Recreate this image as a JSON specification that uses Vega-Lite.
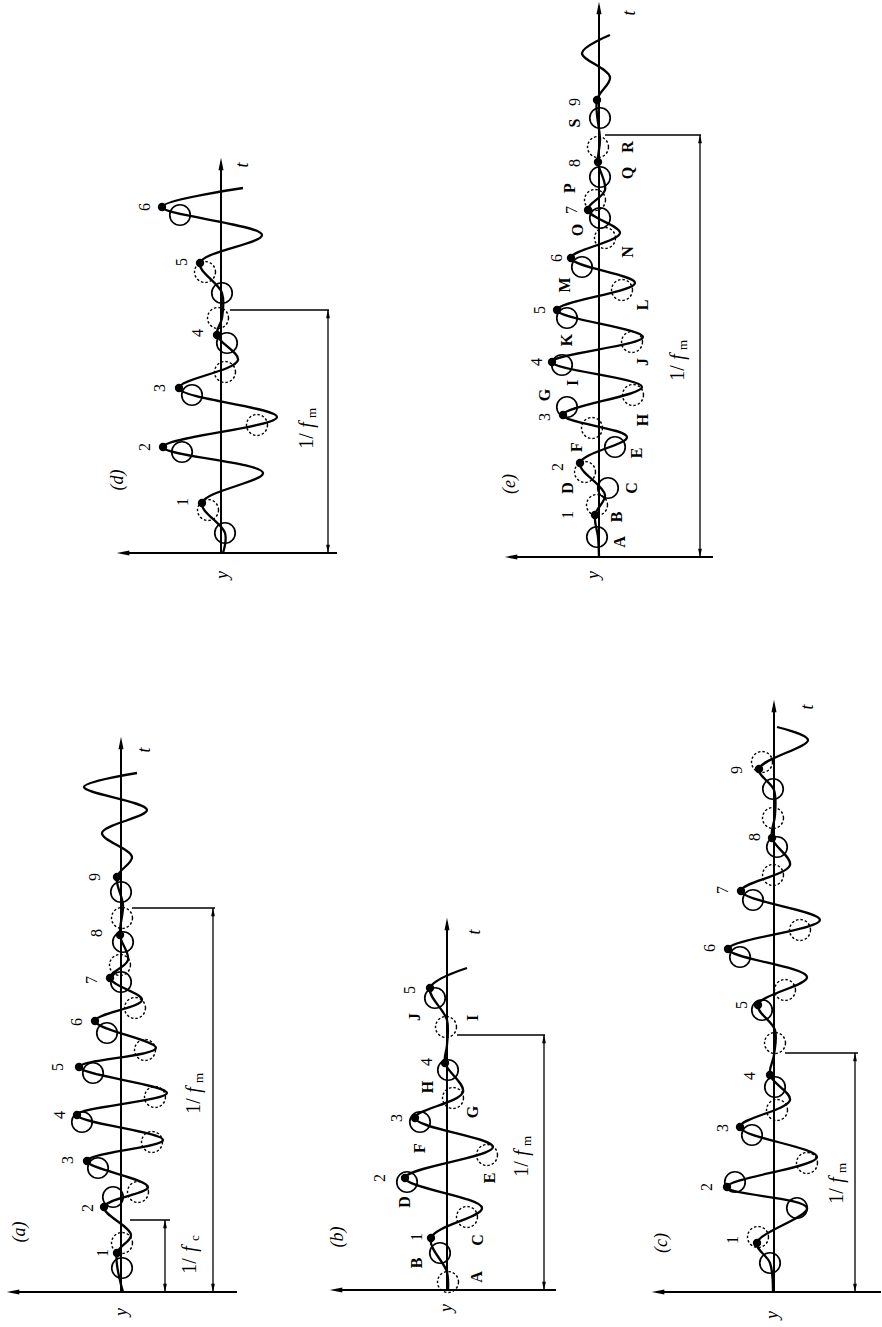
{
"$schema": "https://vega.github.io/schema/vega-lite/v6.json",
"background": "white",
"padding": 0,
"spacing": 0,
"config": {"view": {"stroke": null}, "concat": {"spacing": 0}},
"datasets": {
"pa": [
{"k":"w","o":1,"a":-0.2,"t":0},{"k":"w","o":2,"a":0.4,"t":3.9},{"k":"w","o":3,"a":-1.0,"t":5.7},{"k":"w","o":4,"a":1.7,"t":8.5},{"k":"w","o":5,"a":-2.7,"t":10.5},{"k":"w","o":6,"a":3.4,"t":13.1},{"k":"w","o":7,"a":-4.2,"t":15.2},{"k":"w","o":8,"a":4.4,"t":17.7},{"k":"w","o":9,"a":-4.6,"t":19.9},{"k":"w","o":10,"a":4.2,"t":22.5},{"k":"w","o":11,"a":-3.5,"t":24.4},{"k":"w","o":12,"a":2.6,"t":27.1},{"k":"w","o":13,"a":-2.1,"t":29.2},{"k":"w","o":14,"a":1.1,"t":31.4},{"k":"w","o":15,"a":-0.7,"t":33.2},{"k":"w","o":16,"a":0.1,"t":35.7},{"k":"w","o":17,"a":-0.2,"t":38.7},{"k":"w","o":18,"a":0.4,"t":41.5},{"k":"w","o":19,"a":-1.1,"t":43.5},{"k":"w","o":20,"a":1.9,"t":45.9},{"k":"w","o":21,"a":-2.6,"t":48.2},{"k":"w","o":22,"a":3.7,"t":50.5},{"k":"w","o":23,"a":-1.6,"t":51.9},
{"k":"dot","a":0.4,"t":3.9},{"k":"dot","a":1.7,"t":8.5},{"k":"dot","a":3.4,"t":13.1},{"k":"dot","a":4.4,"t":17.7},{"k":"dot","a":4.2,"t":22.5},{"k":"dot","a":2.6,"t":27.1},{"k":"dot","a":1.1,"t":31.4},{"k":"dot","a":0.1,"t":35.7},{"k":"dot","a":0.4,"t":41.5},
{"k":"c","a":-0.1,"t":2.4},{"k":"c","a":0.8,"t":9.5},{"k":"c","a":2.3,"t":12.4},{"k":"c","a":3.9,"t":17.0},{"k":"c","a":2.8,"t":21.9},{"k":"c","a":1.4,"t":25.9},{"k":"c","a":0.0,"t":31.0},{"k":"c","a":-0.2,"t":35.0},{"k":"c","a":0.0,"t":40.0},
{"k":"dc","a":-0.1,"t":4.9},{"k":"dc","a":-1.7,"t":10.0},{"k":"dc","a":-3.1,"t":15.0},{"k":"dc","a":-3.4,"t":19.5},{"k":"dc","a":-2.4,"t":24.2},{"k":"dc","a":-1.4,"t":28.4},{"k":"dc","a":0.1,"t":32.7},{"k":"dc","a":-0.1,"t":37.4},
{"k":"n","a":1.8,"t":3.9,"s":"1"},{"k":"n","a":3.3,"t":8.4,"s":"2"},{"k":"n","a":5.3,"t":13.2,"s":"3"},{"k":"n","a":6.1,"t":17.7,"s":"4"},{"k":"n","a":6.3,"t":22.5,"s":"5"},{"k":"n","a":4.4,"t":27.0,"s":"6"},{"k":"n","a":2.9,"t":31.2,"s":"7"},{"k":"n","a":2.4,"t":35.9,"s":"8"},{"k":"n","a":2.6,"t":41.5,"s":"9"},
{"k":"p","a":10.1,"t":6.0,"s":"(a)"},{"k":"v","a":-0.1,"t":-2.0,"s":"y"},{"k":"v","a":-2.4,"t":54.2,"s":"t"},
{"k":"ax","a":0,"t":0,"a2":0,"t2":54.8},{"k":"ax","a":-11.6,"t":0,"a2":11.0,"t2":0},
{"k":"arr","a":0,"t":54.9,"ang":0},{"k":"arr","a":10.8,"t":0,"ang":270},
{"k":"dim","a":-4.4,"t":0,"a2":-4.4,"t2":7.2},{"k":"dim","a":-0.9,"t":7.2,"a2":-4.9,"t2":7.2},{"k":"dim","a":-9.2,"t":0,"a2":-9.2,"t2":38.4},{"k":"dim","a":-1.1,"t":38.4,"a2":-9.4,"t2":38.4},
{"k":"darr","a":-4.4,"t":6.8,"ang":0},{"k":"darr","a":-4.4,"t":0.4,"ang":180},{"k":"darr","a":-9.2,"t":38.0,"ang":0},{"k":"darr","a":-9.2,"t":0.4,"ang":180},
{"k":"d1","a":-6.9,"t":2.6,"s":"1/"},{"k":"df","a":-6.9,"t":4.3,"s":"f"},{"k":"ds","a":-7.4,"t":5.4,"s":"c"},
{"k":"d1","a":-7.3,"t":18.6,"s":"1/"},{"k":"df","a":-7.3,"t":20.2,"s":"f"},{"k":"ds","a":-7.8,"t":21.4,"s":"m"}
],
"pb": [
{"k":"w","o":1,"a":-0.1,"t":0},{"k":"w","o":2,"a":0,"t":1.8},{"k":"w","o":3,"a":1.6,"t":5.2},{"k":"w","o":4,"a":-3.5,"t":8.2},{"k":"w","o":5,"a":4.2,"t":11.2},{"k":"w","o":6,"a":-4.6,"t":14.3},{"k":"w","o":7,"a":3.2,"t":17.2},{"k":"w","o":8,"a":-1.6,"t":19.8},{"k":"w","o":9,"a":0.2,"t":22.7},{"k":"w","o":10,"a":0,"t":24.5},{"k":"w","o":11,"a":0,"t":27.0},{"k":"w","o":12,"a":1.7,"t":30.2},{"k":"w","o":13,"a":-2.0,"t":32.2},
{"k":"dot","a":1.6,"t":5.2},{"k":"dot","a":4.2,"t":11.2},{"k":"dot","a":3.2,"t":17.2},{"k":"dot","a":0.2,"t":22.7},{"k":"dot","a":1.7,"t":30.2},
{"k":"c","a":0.7,"t":3.7},{"k":"c","a":4.0,"t":10.8},{"k":"c","a":2.7,"t":16.8},{"k":"c","a":-0.1,"t":22.0},{"k":"c","a":1.2,"t":29.2},
{"k":"dc","a":-0.1,"t":0.8},{"k":"dc","a":-2.0,"t":7.3},{"k":"dc","a":-4.0,"t":13.5},{"k":"dc","a":-0.6,"t":19.2},{"k":"dc","a":0.1,"t":26.3},
{"k":"n","a":3.0,"t":5.3,"s":"1"},{"k":"n","a":6.7,"t":11.2,"s":"2"},{"k":"n","a":5.0,"t":17.2,"s":"3"},{"k":"n","a":2.0,"t":22.8,"s":"4"},{"k":"n","a":3.7,"t":30.0,"s":"5"},
{"k":"L","a":-3.0,"t":1.3,"s":"A"},{"k":"L","a":3.0,"t":2.7,"s":"B"},{"k":"L","a":-3.1,"t":5.0,"s":"C"},{"k":"L","a":4.2,"t":8.8,"s":"D"},{"k":"L","a":-4.3,"t":11.2,"s":"E"},{"k":"L","a":2.7,"t":14.2,"s":"F"},{"k":"L","a":-2.6,"t":17.8,"s":"G"},{"k":"L","a":1.9,"t":20.3,"s":"H"},{"k":"L","a":-2.6,"t":27.2,"s":"I"},{"k":"L","a":3.2,"t":27.3,"s":"J"},
{"k":"p","a":10.9,"t":5.3,"s":"(b)"},{"k":"v","a":0,"t":-1.8,"s":"y"},{"k":"v","a":-2.8,"t":35.8,"s":"t"},
{"k":"ax","a":0,"t":0,"a2":0,"t2":36.5},{"k":"ax","a":-10.9,"t":0,"a2":11.1,"t2":0},
{"k":"arr","a":0,"t":36.6,"ang":0},{"k":"arr","a":11.1,"t":0,"ang":270},
{"k":"dim","a":-9.7,"t":0,"a2":-9.7,"t2":25.5},{"k":"dim","a":-1.0,"t":25.5,"a2":-9.8,"t2":25.5},
{"k":"darr","a":-9.7,"t":25.1,"ang":0},{"k":"darr","a":-9.7,"t":0.4,"ang":180},
{"k":"d1","a":-7.5,"t":12.1,"s":"1/"},{"k":"df","a":-7.5,"t":13.7,"s":"f"},{"k":"ds","a":-8.0,"t":14.9,"s":"m"}
],
"pc": [
{"k":"w","o":1,"a":0.1,"t":0},{"k":"w","o":2,"a":0.4,"t":2.9},{"k":"w","o":3,"a":1.7,"t":4.9},{"k":"w","o":4,"a":-3.3,"t":8.4},{"k":"w","o":5,"a":4.7,"t":10.5},{"k":"w","o":6,"a":-4.3,"t":13.5},{"k":"w","o":7,"a":3.4,"t":16.5},{"k":"w","o":8,"a":-1.6,"t":19.2},{"k":"w","o":9,"a":0.4,"t":21.7},{"k":"w","o":10,"a":0,"t":23.7},{"k":"w","o":11,"a":-0.1,"t":26.2},{"k":"w","o":12,"a":1.6,"t":28.7},{"k":"w","o":13,"a":-3.3,"t":31.5},{"k":"w","o":14,"a":4.6,"t":34.3},{"k":"w","o":15,"a":-4.6,"t":37.2},{"k":"w","o":16,"a":3.3,"t":40.1},{"k":"w","o":17,"a":-1.6,"t":42.7},{"k":"w","o":18,"a":0.2,"t":45.4},{"k":"w","o":19,"a":-0.1,"t":47.7},{"k":"w","o":20,"a":0,"t":50.2},{"k":"w","o":21,"a":1.5,"t":52.3},{"k":"w","o":22,"a":-3.4,"t":55.2},{"k":"w","o":23,"a":-0.3,"t":56.5},
{"k":"dot","a":1.7,"t":4.9},{"k":"dot","a":4.7,"t":10.5},{"k":"dot","a":3.4,"t":16.5},{"k":"dot","a":0.4,"t":21.7},{"k":"dot","a":1.6,"t":28.7},{"k":"dot","a":4.6,"t":34.3},{"k":"dot","a":3.3,"t":40.1},{"k":"dot","a":0.2,"t":45.4},{"k":"dot","a":1.5,"t":52.3},
{"k":"c","a":0.4,"t":2.9},{"k":"c","a":-2.3,"t":8.4},{"k":"c","a":3.9,"t":11.0},{"k":"c","a":2.2,"t":15.7},{"k":"c","a":-0.1,"t":20.5},{"k":"c","a":1.2,"t":28.2},{"k":"c","a":3.4,"t":33.5},{"k":"c","a":2.1,"t":39.2},{"k":"c","a":-0.3,"t":44.5},{"k":"c","a":0.1,"t":50.3},
{"k":"dc","a":1.6,"t":5.5},{"k":"dc","a":-3.3,"t":12.9},{"k":"dc","a":-0.3,"t":18.2},{"k":"dc","a":-0.1,"t":24.9},{"k":"dc","a":-1.1,"t":30.2},{"k":"dc","a":-2.6,"t":36.2},{"k":"dc","a":0.1,"t":41.7},{"k":"dc","a":0.1,"t":47.4},{"k":"dc","a":1.2,"t":53.0},
{"k":"n","a":4.1,"t":5.2,"s":"1"},{"k":"n","a":6.7,"t":10.5,"s":"2"},{"k":"n","a":5.1,"t":16.4,"s":"3"},{"k":"n","a":2.4,"t":21.6,"s":"4"},{"k":"n","a":3.2,"t":28.7,"s":"5"},{"k":"n","a":6.4,"t":34.4,"s":"6"},{"k":"n","a":5.1,"t":40.2,"s":"7"},{"k":"n","a":1.9,"t":45.5,"s":"8"},{"k":"n","a":3.7,"t":52.2,"s":"9"},
{"k":"p","a":11.2,"t":4.9,"s":"(c)"},{"k":"v","a":0.1,"t":-2.3,"s":"y"},{"k":"v","a":-3.4,"t":58.5,"s":"t"},
{"k":"ax","a":0,"t":0,"a2":0,"t2":58.5},{"k":"ax","a":-10.7,"t":0,"a2":11.6,"t2":0},
{"k":"arr","a":0,"t":58.6,"ang":0},{"k":"arr","a":11.6,"t":0,"ang":270},
{"k":"dim","a":-8.1,"t":0,"a2":-8.1,"t2":23.9},{"k":"dim","a":-1.1,"t":23.9,"a2":-8.4,"t2":23.9},
{"k":"darr","a":-8.1,"t":23.5,"ang":0},{"k":"darr","a":-8.1,"t":0.4,"ang":180},
{"k":"d1","a":-6.3,"t":9.6,"s":"1/"},{"k":"df","a":-6.3,"t":11.2,"s":"f"},{"k":"ds","a":-6.8,"t":12.4,"s":"m"}
],
"pd": [
{"k":"w","o":1,"a":-0.2,"t":0},{"k":"w","o":2,"a":-0.4,"t":2.0},{"k":"w","o":3,"a":1.9,"t":5.0},{"k":"w","o":4,"a":-4.2,"t":8.0},{"k":"w","o":5,"a":5.8,"t":10.6},{"k":"w","o":6,"a":-5.6,"t":13.6},{"k":"w","o":7,"a":4.2,"t":16.5},{"k":"w","o":8,"a":-1.7,"t":19.3},{"k":"w","o":9,"a":0.4,"t":21.8},{"k":"w","o":10,"a":-0.1,"t":23.5},{"k":"w","o":11,"a":-0.1,"t":26.0},{"k":"w","o":12,"a":2.1,"t":29.0},{"k":"w","o":13,"a":-4.1,"t":31.8},{"k":"w","o":14,"a":5.9,"t":34.6},{"k":"w","o":15,"a":-2.2,"t":36.5},
{"k":"dot","a":1.9,"t":5.0},{"k":"dot","a":5.8,"t":10.6},{"k":"dot","a":4.2,"t":16.5},{"k":"dot","a":0.4,"t":21.8},{"k":"dot","a":2.1,"t":29.0},{"k":"dot","a":5.9,"t":34.6},
{"k":"c","a":-0.4,"t":2.0},{"k":"c","a":3.9,"t":10.1},{"k":"c","a":2.9,"t":15.8},{"k":"c","a":-0.6,"t":21.0},{"k":"c","a":-0.1,"t":26.0},{"k":"c","a":4.1,"t":33.8},
{"k":"dc","a":1.3,"t":4.3},{"k":"dc","a":-3.6,"t":12.8},{"k":"dc","a":-0.4,"t":18.1},{"k":"dc","a":0.3,"t":23.5},{"k":"dc","a":1.6,"t":28.1},
{"k":"n","a":3.8,"t":5.1,"s":"1"},{"k":"n","a":7.6,"t":10.6,"s":"2"},{"k":"n","a":6.1,"t":16.5,"s":"3"},{"k":"n","a":2.3,"t":22.0,"s":"4"},{"k":"n","a":3.9,"t":29.1,"s":"5"},{"k":"n","a":7.6,"t":34.6,"s":"6"},
{"k":"p","a":10.3,"t":7.3,"s":"(d)"},{"k":"v","a":-0.2,"t":-2.2,"s":"y"},{"k":"v","a":-2.2,"t":38.8,"s":"t"},
{"k":"ax","a":0,"t":0,"a2":0,"t2":38.8},{"k":"ax","a":-11.6,"t":0,"a2":9.8,"t2":0},
{"k":"arr","a":0,"t":38.9,"ang":0},{"k":"arr","a":9.8,"t":0,"ang":270},
{"k":"dim","a":-10.7,"t":0,"a2":-10.7,"t2":24.3},{"k":"dim","a":-0.9,"t":24.3,"a2":-10.8,"t2":24.3},
{"k":"darr","a":-10.7,"t":23.9,"ang":0},{"k":"darr","a":-10.7,"t":0.4,"ang":180},
{"k":"d1","a":-8.6,"t":11.2,"s":"1/"},{"k":"df","a":-8.6,"t":12.8,"s":"f"},{"k":"ds","a":-9.1,"t":14.0,"s":"m"}
],
"pe": [
{"k":"w","o":1,"a":0,"t":0},{"k":"w","o":2,"a":0.1,"t":2.0},{"k":"w","o":3,"a":0.4,"t":4.2},{"k":"w","o":4,"a":-0.6,"t":6.2},{"k":"w","o":5,"a":1.9,"t":9.4},{"k":"w","o":6,"a":-2.8,"t":12.0},{"k":"w","o":7,"a":3.6,"t":14.2},{"k":"w","o":8,"a":-4.3,"t":17.0},{"k":"w","o":9,"a":4.7,"t":19.5},{"k":"w","o":10,"a":-4.4,"t":22.0},{"k":"w","o":11,"a":4.2,"t":24.7},{"k":"w","o":12,"a":-3.6,"t":27.4},{"k":"w","o":13,"a":2.8,"t":29.9},{"k":"w","o":14,"a":-2.1,"t":32.4},{"k":"w","o":15,"a":1.1,"t":34.7},{"k":"w","o":16,"a":-0.6,"t":36.7},{"k":"w","o":17,"a":0.1,"t":39.5},{"k":"w","o":18,"a":-0.1,"t":41.7},{"k":"w","o":19,"a":0.2,"t":45.7},{"k":"w","o":20,"a":-1.1,"t":48.0},{"k":"w","o":21,"a":1.7,"t":50.4},{"k":"w","o":22,"a":-1.1,"t":52.2},
{"k":"dot","a":0.4,"t":4.2},{"k":"dot","a":1.9,"t":9.4},{"k":"dot","a":3.6,"t":14.2},{"k":"dot","a":4.7,"t":19.5},{"k":"dot","a":4.2,"t":24.7},{"k":"dot","a":2.8,"t":29.9},{"k":"dot","a":1.1,"t":34.7},{"k":"dot","a":0.1,"t":39.5},{"k":"dot","a":0.2,"t":45.7},
{"k":"c","a":0.2,"t":2.0},{"k":"c","a":-0.9,"t":6.9},{"k":"c","a":-1.6,"t":11.0},{"k":"c","a":3.2,"t":15.0},{"k":"c","a":3.7,"t":19.2},{"k":"c","a":3.2,"t":23.9},{"k":"c","a":1.7,"t":29.0},{"k":"c","a":-0.1,"t":33.9},{"k":"c","a":-0.1,"t":38.0},{"k":"c","a":-0.1,"t":43.9},
{"k":"dc","a":0.2,"t":5.2},{"k":"dc","a":1.4,"t":8.5},{"k":"dc","a":0.7,"t":12.9},{"k":"dc","a":-3.4,"t":16.2},{"k":"dc","a":-3.3,"t":21.5},{"k":"dc","a":-2.3,"t":26.7},{"k":"dc","a":-0.6,"t":31.9},{"k":"dc","a":0.4,"t":35.7},{"k":"dc","a":0.1,"t":41.0},
{"k":"n","a":3.1,"t":4.2,"s":"1"},{"k":"n","a":4.1,"t":9.0,"s":"2"},{"k":"n","a":5.4,"t":14.0,"s":"3"},{"k":"n","a":6.2,"t":19.5,"s":"4"},{"k":"n","a":5.9,"t":24.7,"s":"5"},{"k":"n","a":4.2,"t":29.9,"s":"6"},{"k":"n","a":2.7,"t":34.7,"s":"7"},{"k":"n","a":2.4,"t":39.4,"s":"8"},{"k":"n","a":2.4,"t":45.5,"s":"9"},
{"k":"L","a":-2.1,"t":1.5,"s":"A"},{"k":"L","a":-1.8,"t":4.0,"s":"B"},{"k":"L","a":-3.3,"t":6.9,"s":"C"},{"k":"L","a":3.1,"t":6.9,"s":"D"},{"k":"L","a":-3.8,"t":10.4,"s":"E"},{"k":"L","a":2.2,"t":11.0,"s":"F"},{"k":"L","a":5.4,"t":16.2,"s":"G"},{"k":"L","a":-4.4,"t":13.7,"s":"H"},{"k":"L","a":2.6,"t":17.4,"s":"I"},{"k":"L","a":-4.4,"t":19.5,"s":"J"},{"k":"L","a":3.2,"t":21.7,"s":"K"},{"k":"L","a":-4.4,"t":25.2,"s":"L"},{"k":"L","a":3.4,"t":27.2,"s":"M"},{"k":"L","a":-2.9,"t":30.5,"s":"N"},{"k":"L","a":2.1,"t":32.7,"s":"O"},{"k":"L","a":2.9,"t":36.9,"s":"P"},{"k":"L","a":-2.9,"t":38.4,"s":"Q"},{"k":"L","a":-2.9,"t":41.0,"s":"R"},{"k":"L","a":2.4,"t":43.4,"s":"S"},
{"k":"p","a":8.9,"t":7.3,"s":"(e)"},{"k":"v","a":0.5,"t":-1.8,"s":"y"},{"k":"v","a":-3.1,"t":54.4,"s":"t"},
{"k":"ax","a":0,"t":0,"a2":0,"t2":54.8},{"k":"ax","a":-11.4,"t":0,"a2":8.8,"t2":0},
{"k":"arr","a":0,"t":54.9,"ang":0},{"k":"arr","a":8.8,"t":0,"ang":270},
{"k":"dim","a":-10.1,"t":0,"a2":-10.1,"t2":42.2},{"k":"dim","a":-0.6,"t":42.2,"a2":-10.2,"t2":42.2},
{"k":"darr","a":-10.1,"t":41.8,"ang":0},{"k":"darr","a":-10.1,"t":0.4,"ang":180},
{"k":"d1","a":-7.9,"t":18.4,"s":"1/"},{"k":"df","a":-7.9,"t":20.0,"s":"f"},{"k":"ds","a":-8.4,"t":21.2,"s":"m"}
]
},
"vconcat": [
{"hconcat": [
{"width": 440, "height": 690, "data": {"name": "pd"},
 "encoding": {"x": {"field": "a", "type": "quantitative", "scale": {"domain": [-21.9, 22.1], "reverse": true, "nice": false, "zero": false}, "axis": null},
              "y": {"field": "t", "type": "quantitative", "scale": {"domain": [-13.7, 55.3], "nice": false, "zero": false}, "axis": null}},
 "layer": [
{"transform":[{"filter":"datum.k==='dim'"}],"mark":{"type":"rule","color":"black","strokeWidth":1.3},"encoding":{"x2":{"field":"a2"},"y2":{"field":"t2"}}},
{"transform":[{"filter":"datum.k==='ax'"}],"mark":{"type":"rule","color":"black","strokeWidth":2},"encoding":{"x2":{"field":"a2"},"y2":{"field":"t2"}}},
{"transform":[{"filter":"datum.k==='w'"}],"mark":{"type":"line","color":"black","strokeWidth":2.3,"interpolate":"catmull-rom"},"encoding":{"order":{"field":"o","type":"quantitative"}}},
{"transform":[{"filter":"datum.k==='c'"}],"mark":{"type":"point","shape":"circle","filled":false,"color":"black","size":420,"strokeWidth":1.7,"opacity":1}},
{"transform":[{"filter":"datum.k==='dc'"}],"mark":{"type":"point","shape":"circle","filled":false,"color":"black","size":440,"strokeWidth":1.4,"strokeDash":[2.5,2],"opacity":1}},
{"transform":[{"filter":"datum.k==='dot'"}],"mark":{"type":"point","shape":"circle","filled":true,"color":"black","size":70,"opacity":1}},
{"transform":[{"filter":"datum.k==='arr'"}],"mark":{"type":"point","shape":"M0,-1L0.4,1L-0.4,1Z","filled":true,"color":"black","size":160,"opacity":1},"encoding":{"angle":{"field":"ang","type":"quantitative","scale":null}}},
{"transform":[{"filter":"datum.k==='darr'"}],"mark":{"type":"point","shape":"M0,-1L0.45,1L-0.45,1Z","filled":true,"color":"black","size":70,"opacity":1},"encoding":{"angle":{"field":"ang","type":"quantitative","scale":null}}},
{"transform":[{"filter":"datum.k==='n'"}],"mark":{"type":"text","font":"Liberation Serif","fontSize":16,"angle":270,"color":"black"},"encoding":{"text":{"field":"s"}}},
{"transform":[{"filter":"datum.k==='L'"}],"mark":{"type":"text","font":"Liberation Serif","fontSize":16,"fontWeight":"bold","angle":270,"color":"black"},"encoding":{"text":{"field":"s"}}},
{"transform":[{"filter":"datum.k==='p'"}],"mark":{"type":"text","font":"Liberation Serif","fontSize":18,"fontStyle":"italic","angle":270,"color":"black"},"encoding":{"text":{"field":"s"}}},
{"transform":[{"filter":"datum.k==='v'"}],"mark":{"type":"text","font":"Liberation Serif","fontSize":18,"fontStyle":"italic","angle":270,"color":"black"},"encoding":{"text":{"field":"s"}}},
{"transform":[{"filter":"datum.k==='d1'"}],"mark":{"type":"text","font":"Liberation Serif","fontSize":20,"angle":270,"color":"black"},"encoding":{"text":{"field":"s"}}},
{"transform":[{"filter":"datum.k==='df'"}],"mark":{"type":"text","font":"Liberation Serif","fontSize":20,"fontStyle":"italic","angle":270,"color":"black"},"encoding":{"text":{"field":"s"}}},
{"transform":[{"filter":"datum.k==='ds'"}],"mark":{"type":"text","font":"Liberation Serif","fontSize":13,"angle":270,"color":"black"},"encoding":{"text":{"field":"s"}}}
 ]},
{"width": 442, "height": 690, "data": {"name": "pe"},
 "encoding": {"x": {"field": "a", "type": "quantitative", "scale": {"domain": [-28.3, 15.9], "reverse": true, "nice": false, "zero": false}, "axis": null},
              "y": {"field": "t", "type": "quantitative", "scale": {"domain": [-13.3, 55.7], "nice": false, "zero": false}, "axis": null}},
 "layer": [
{"transform":[{"filter":"datum.k==='dim'"}],"mark":{"type":"rule","color":"black","strokeWidth":1.3},"encoding":{"x2":{"field":"a2"},"y2":{"field":"t2"}}},
{"transform":[{"filter":"datum.k==='ax'"}],"mark":{"type":"rule","color":"black","strokeWidth":2},"encoding":{"x2":{"field":"a2"},"y2":{"field":"t2"}}},
{"transform":[{"filter":"datum.k==='w'"}],"mark":{"type":"line","color":"black","strokeWidth":2.3,"interpolate":"catmull-rom"},"encoding":{"order":{"field":"o","type":"quantitative"}}},
{"transform":[{"filter":"datum.k==='c'"}],"mark":{"type":"point","shape":"circle","filled":false,"color":"black","size":420,"strokeWidth":1.7,"opacity":1}},
{"transform":[{"filter":"datum.k==='dc'"}],"mark":{"type":"point","shape":"circle","filled":false,"color":"black","size":440,"strokeWidth":1.4,"strokeDash":[2.5,2],"opacity":1}},
{"transform":[{"filter":"datum.k==='dot'"}],"mark":{"type":"point","shape":"circle","filled":true,"color":"black","size":70,"opacity":1}},
{"transform":[{"filter":"datum.k==='arr'"}],"mark":{"type":"point","shape":"M0,-1L0.4,1L-0.4,1Z","filled":true,"color":"black","size":160,"opacity":1},"encoding":{"angle":{"field":"ang","type":"quantitative","scale":null}}},
{"transform":[{"filter":"datum.k==='darr'"}],"mark":{"type":"point","shape":"M0,-1L0.45,1L-0.45,1Z","filled":true,"color":"black","size":70,"opacity":1},"encoding":{"angle":{"field":"ang","type":"quantitative","scale":null}}},
{"transform":[{"filter":"datum.k==='n'"}],"mark":{"type":"text","font":"Liberation Serif","fontSize":16,"angle":270,"color":"black"},"encoding":{"text":{"field":"s"}}},
{"transform":[{"filter":"datum.k==='L'"}],"mark":{"type":"text","font":"Liberation Serif","fontSize":16,"fontWeight":"bold","angle":270,"color":"black"},"encoding":{"text":{"field":"s"}}},
{"transform":[{"filter":"datum.k==='p'"}],"mark":{"type":"text","font":"Liberation Serif","fontSize":18,"fontStyle":"italic","angle":270,"color":"black"},"encoding":{"text":{"field":"s"}}},
{"transform":[{"filter":"datum.k==='v'"}],"mark":{"type":"text","font":"Liberation Serif","fontSize":18,"fontStyle":"italic","angle":270,"color":"black"},"encoding":{"text":{"field":"s"}}},
{"transform":[{"filter":"datum.k==='d1'"}],"mark":{"type":"text","font":"Liberation Serif","fontSize":20,"angle":270,"color":"black"},"encoding":{"text":{"field":"s"}}},
{"transform":[{"filter":"datum.k==='df'"}],"mark":{"type":"text","font":"Liberation Serif","fontSize":20,"fontStyle":"italic","angle":270,"color":"black"},"encoding":{"text":{"field":"s"}}},
{"transform":[{"filter":"datum.k==='ds'"}],"mark":{"type":"text","font":"Liberation Serif","fontSize":13,"angle":270,"color":"black"},"encoding":{"text":{"field":"s"}}}
 ]}
], "spacing": 0, "bounds": "flush"},
{"hconcat": [
{"width": 240, "height": 637, "data": {"name": "pa"},
 "encoding": {"x": {"field": "a", "type": "quantitative", "scale": {"domain": [-11.9, 12.1], "reverse": true, "nice": false, "zero": false}, "axis": null},
              "y": {"field": "t", "type": "quantitative", "scale": {"domain": [-3.5, 60.2], "nice": false, "zero": false}, "axis": null}},
 "layer": [
{"transform":[{"filter":"datum.k==='dim'"}],"mark":{"type":"rule","color":"black","strokeWidth":1.3},"encoding":{"x2":{"field":"a2"},"y2":{"field":"t2"}}},
{"transform":[{"filter":"datum.k==='ax'"}],"mark":{"type":"rule","color":"black","strokeWidth":2},"encoding":{"x2":{"field":"a2"},"y2":{"field":"t2"}}},
{"transform":[{"filter":"datum.k==='w'"}],"mark":{"type":"line","color":"black","strokeWidth":2.3,"interpolate":"catmull-rom"},"encoding":{"order":{"field":"o","type":"quantitative"}}},
{"transform":[{"filter":"datum.k==='c'"}],"mark":{"type":"point","shape":"circle","filled":false,"color":"black","size":420,"strokeWidth":1.7,"opacity":1}},
{"transform":[{"filter":"datum.k==='dc'"}],"mark":{"type":"point","shape":"circle","filled":false,"color":"black","size":440,"strokeWidth":1.4,"strokeDash":[2.5,2],"opacity":1}},
{"transform":[{"filter":"datum.k==='dot'"}],"mark":{"type":"point","shape":"circle","filled":true,"color":"black","size":70,"opacity":1}},
{"transform":[{"filter":"datum.k==='arr'"}],"mark":{"type":"point","shape":"M0,-1L0.4,1L-0.4,1Z","filled":true,"color":"black","size":160,"opacity":1},"encoding":{"angle":{"field":"ang","type":"quantitative","scale":null}}},
{"transform":[{"filter":"datum.k==='darr'"}],"mark":{"type":"point","shape":"M0,-1L0.45,1L-0.45,1Z","filled":true,"color":"black","size":70,"opacity":1},"encoding":{"angle":{"field":"ang","type":"quantitative","scale":null}}},
{"transform":[{"filter":"datum.k==='n'"}],"mark":{"type":"text","font":"Liberation Serif","fontSize":16,"angle":270,"color":"black"},"encoding":{"text":{"field":"s"}}},
{"transform":[{"filter":"datum.k==='L'"}],"mark":{"type":"text","font":"Liberation Serif","fontSize":16,"fontWeight":"bold","angle":270,"color":"black"},"encoding":{"text":{"field":"s"}}},
{"transform":[{"filter":"datum.k==='p'"}],"mark":{"type":"text","font":"Liberation Serif","fontSize":18,"fontStyle":"italic","angle":270,"color":"black"},"encoding":{"text":{"field":"s"}}},
{"transform":[{"filter":"datum.k==='v'"}],"mark":{"type":"text","font":"Liberation Serif","fontSize":18,"fontStyle":"italic","angle":270,"color":"black"},"encoding":{"text":{"field":"s"}}},
{"transform":[{"filter":"datum.k==='d1'"}],"mark":{"type":"text","font":"Liberation Serif","fontSize":20,"angle":270,"color":"black"},"encoding":{"text":{"field":"s"}}},
{"transform":[{"filter":"datum.k==='df'"}],"mark":{"type":"text","font":"Liberation Serif","fontSize":20,"fontStyle":"italic","angle":270,"color":"black"},"encoding":{"text":{"field":"s"}}},
{"transform":[{"filter":"datum.k==='ds'"}],"mark":{"type":"text","font":"Liberation Serif","fontSize":13,"angle":270,"color":"black"},"encoding":{"text":{"field":"s"}}}
 ]},
{"width": 320, "height": 637, "data": {"name": "pb"},
 "encoding": {"x": {"field": "a", "type": "quantitative", "scale": {"domain": [-11.3, 20.7], "reverse": true, "nice": false, "zero": false}, "axis": null},
              "y": {"field": "t", "type": "quantitative", "scale": {"domain": [-3.7, 60.0], "nice": false, "zero": false}, "axis": null}},
 "layer": [
{"transform":[{"filter":"datum.k==='dim'"}],"mark":{"type":"rule","color":"black","strokeWidth":1.3},"encoding":{"x2":{"field":"a2"},"y2":{"field":"t2"}}},
{"transform":[{"filter":"datum.k==='ax'"}],"mark":{"type":"rule","color":"black","strokeWidth":2},"encoding":{"x2":{"field":"a2"},"y2":{"field":"t2"}}},
{"transform":[{"filter":"datum.k==='w'"}],"mark":{"type":"line","color":"black","strokeWidth":2.3,"interpolate":"catmull-rom"},"encoding":{"order":{"field":"o","type":"quantitative"}}},
{"transform":[{"filter":"datum.k==='c'"}],"mark":{"type":"point","shape":"circle","filled":false,"color":"black","size":420,"strokeWidth":1.7,"opacity":1}},
{"transform":[{"filter":"datum.k==='dc'"}],"mark":{"type":"point","shape":"circle","filled":false,"color":"black","size":440,"strokeWidth":1.4,"strokeDash":[2.5,2],"opacity":1}},
{"transform":[{"filter":"datum.k==='dot'"}],"mark":{"type":"point","shape":"circle","filled":true,"color":"black","size":70,"opacity":1}},
{"transform":[{"filter":"datum.k==='arr'"}],"mark":{"type":"point","shape":"M0,-1L0.4,1L-0.4,1Z","filled":true,"color":"black","size":160,"opacity":1},"encoding":{"angle":{"field":"ang","type":"quantitative","scale":null}}},
{"transform":[{"filter":"datum.k==='darr'"}],"mark":{"type":"point","shape":"M0,-1L0.45,1L-0.45,1Z","filled":true,"color":"black","size":70,"opacity":1},"encoding":{"angle":{"field":"ang","type":"quantitative","scale":null}}},
{"transform":[{"filter":"datum.k==='n'"}],"mark":{"type":"text","font":"Liberation Serif","fontSize":16,"angle":270,"color":"black"},"encoding":{"text":{"field":"s"}}},
{"transform":[{"filter":"datum.k==='L'"}],"mark":{"type":"text","font":"Liberation Serif","fontSize":16,"fontWeight":"bold","angle":270,"color":"black"},"encoding":{"text":{"field":"s"}}},
{"transform":[{"filter":"datum.k==='p'"}],"mark":{"type":"text","font":"Liberation Serif","fontSize":18,"fontStyle":"italic","angle":270,"color":"black"},"encoding":{"text":{"field":"s"}}},
{"transform":[{"filter":"datum.k==='v'"}],"mark":{"type":"text","font":"Liberation Serif","fontSize":18,"fontStyle":"italic","angle":270,"color":"black"},"encoding":{"text":{"field":"s"}}},
{"transform":[{"filter":"datum.k==='d1'"}],"mark":{"type":"text","font":"Liberation Serif","fontSize":20,"angle":270,"color":"black"},"encoding":{"text":{"field":"s"}}},
{"transform":[{"filter":"datum.k==='df'"}],"mark":{"type":"text","font":"Liberation Serif","fontSize":20,"fontStyle":"italic","angle":270,"color":"black"},"encoding":{"text":{"field":"s"}}},
{"transform":[{"filter":"datum.k==='ds'"}],"mark":{"type":"text","font":"Liberation Serif","fontSize":13,"angle":270,"color":"black"},"encoding":{"text":{"field":"s"}}}
 ]},
{"width": 322, "height": 637, "data": {"name": "pc"},
 "encoding": {"x": {"field": "a", "type": "quantitative", "scale": {"domain": [-10.8, 21.4], "reverse": true, "nice": false, "zero": false}, "axis": null},
              "y": {"field": "t", "type": "quantitative", "scale": {"domain": [-3.5, 60.2], "nice": false, "zero": false}, "axis": null}},
 "layer": [
{"transform":[{"filter":"datum.k==='dim'"}],"mark":{"type":"rule","color":"black","strokeWidth":1.3},"encoding":{"x2":{"field":"a2"},"y2":{"field":"t2"}}},
{"transform":[{"filter":"datum.k==='ax'"}],"mark":{"type":"rule","color":"black","strokeWidth":2},"encoding":{"x2":{"field":"a2"},"y2":{"field":"t2"}}},
{"transform":[{"filter":"datum.k==='w'"}],"mark":{"type":"line","color":"black","strokeWidth":2.3,"interpolate":"catmull-rom"},"encoding":{"order":{"field":"o","type":"quantitative"}}},
{"transform":[{"filter":"datum.k==='c'"}],"mark":{"type":"point","shape":"circle","filled":false,"color":"black","size":420,"strokeWidth":1.7,"opacity":1}},
{"transform":[{"filter":"datum.k==='dc'"}],"mark":{"type":"point","shape":"circle","filled":false,"color":"black","size":440,"strokeWidth":1.4,"strokeDash":[2.5,2],"opacity":1}},
{"transform":[{"filter":"datum.k==='dot'"}],"mark":{"type":"point","shape":"circle","filled":true,"color":"black","size":70,"opacity":1}},
{"transform":[{"filter":"datum.k==='arr'"}],"mark":{"type":"point","shape":"M0,-1L0.4,1L-0.4,1Z","filled":true,"color":"black","size":160,"opacity":1},"encoding":{"angle":{"field":"ang","type":"quantitative","scale":null}}},
{"transform":[{"filter":"datum.k==='darr'"}],"mark":{"type":"point","shape":"M0,-1L0.45,1L-0.45,1Z","filled":true,"color":"black","size":70,"opacity":1},"encoding":{"angle":{"field":"ang","type":"quantitative","scale":null}}},
{"transform":[{"filter":"datum.k==='n'"}],"mark":{"type":"text","font":"Liberation Serif","fontSize":16,"angle":270,"color":"black"},"encoding":{"text":{"field":"s"}}},
{"transform":[{"filter":"datum.k==='L'"}],"mark":{"type":"text","font":"Liberation Serif","fontSize":16,"fontWeight":"bold","angle":270,"color":"black"},"encoding":{"text":{"field":"s"}}},
{"transform":[{"filter":"datum.k==='p'"}],"mark":{"type":"text","font":"Liberation Serif","fontSize":18,"fontStyle":"italic","angle":270,"color":"black"},"encoding":{"text":{"field":"s"}}},
{"transform":[{"filter":"datum.k==='v'"}],"mark":{"type":"text","font":"Liberation Serif","fontSize":18,"fontStyle":"italic","angle":270,"color":"black"},"encoding":{"text":{"field":"s"}}},
{"transform":[{"filter":"datum.k==='d1'"}],"mark":{"type":"text","font":"Liberation Serif","fontSize":20,"angle":270,"color":"black"},"encoding":{"text":{"field":"s"}}},
{"transform":[{"filter":"datum.k==='df'"}],"mark":{"type":"text","font":"Liberation Serif","fontSize":20,"fontStyle":"italic","angle":270,"color":"black"},"encoding":{"text":{"field":"s"}}},
{"transform":[{"filter":"datum.k==='ds'"}],"mark":{"type":"text","font":"Liberation Serif","fontSize":13,"angle":270,"color":"black"},"encoding":{"text":{"field":"s"}}}
 ]}
], "spacing": 0, "bounds": "flush"}
]
}
